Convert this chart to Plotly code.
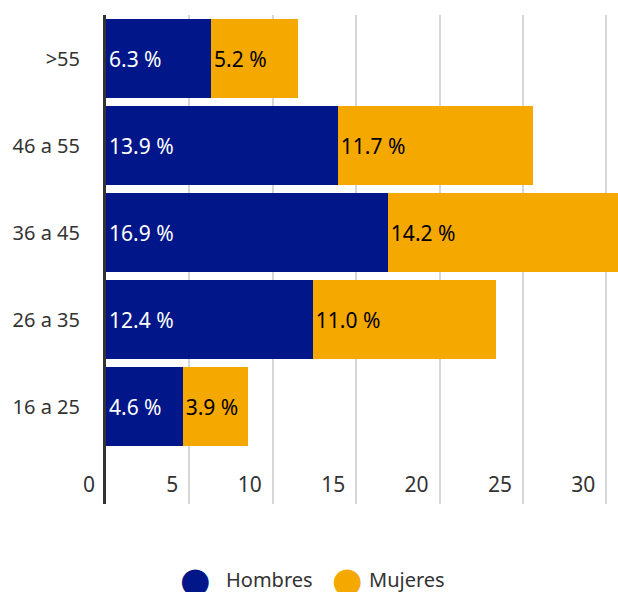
import plotly.graph_objects as go

categories = ["16 a 25", "26 a 35", "36 a 45", "46 a 55", ">55"]
hombres = [4.6, 12.4, 16.9, 13.9, 6.3]
mujeres = [3.9, 11.0, 14.2, 11.7, 5.2]
x_ticks = [0, 5, 10, 15, 20, 25, 30]
legend_names = ["Hombres", "Mujeres"]

BLUE = "#001689"
ORANGE = "#f5a800"
FONT = "Noto Sans"

W, H = 618, 592
# plot area in page px
PL, PR, PT, PB = 106, 618, 15, 504

fig = go.Figure()
fig.add_trace(go.Bar(
    y=categories, x=hombres, orientation="h", name=legend_names[0],
    marker=dict(color=BLUE, line=dict(width=0)),
    text=[f"{v:.1f} %" for v in hombres], textposition="inside",
    insidetextanchor="start", textfont=dict(color="white", size=21, family=FONT),
    showlegend=False, hoverinfo="skip"))
fig.add_trace(go.Bar(
    y=categories, x=mujeres, orientation="h", name=legend_names[1],
    marker=dict(color=ORANGE, line=dict(width=0)),
    text=[f"{v:.1f} %" for v in mujeres], textposition="inside",
    insidetextanchor="start", textfont=dict(color="black", size=21, family=FONT),
    showlegend=False, hoverinfo="skip"))

# custom legend with large circles (plotly caps legend marker size)
legend_items = [
    (legend_names[0], BLUE, 195, 224),
    (legend_names[1], ORANGE, 347, 367),
]
LEG_Y = 579
annotations = []
for name, color, cx, tx in legend_items:
    annotations.append(dict(
        text="●", xref="paper", yref="paper",
        x=(cx - PL) / (PR - PL), y=(PB - LEG_Y - 1) / (PB - PT),
        xanchor="center", yanchor="middle",
        showarrow=False, font=dict(size=35, color=color, family="DejaVu Sans")))
    annotations.append(dict(
        text=name, xref="paper", yref="paper",
        x=(tx - PL) / (PR - PL), y=(PB - LEG_Y) / (PB - PT),
        xanchor="left", yanchor="middle",
        showarrow=False, font=dict(size=20, color="#333333", family=FONT)))

fig.update_layout(
    width=W, height=H,
    margin=dict(l=PL, r=W - PR, t=PT, b=H - PB, autoexpand=False),
    barmode="stack", bargap=0.1,
    plot_bgcolor="white", paper_bgcolor="white",
    font=dict(family=FONT, color="#333333", size=20),
    showlegend=False,
    annotations=annotations,
)
fig.update_xaxes(
    range=[0, 30.7], tickvals=x_ticks, ticktext=[str(t) for t in x_ticks],
    showgrid=True, gridcolor="#d6d6d6", gridwidth=2,
    zeroline=False, showline=False, automargin=False,
    ticklabelposition="outside left", ticklabelstandoff=-34, ticklabelshift=-11,
    ticks="",
    tickfont=dict(size=21, color="#333333"),
)
fig.update_yaxes(
    type="category", categoryorder="array", categoryarray=categories,
    range=[-1.12, 4.5], automargin=False,
    showgrid=False, zeroline=False,
    showline=True, linecolor="#333333", linewidth=3,
    ticks="outside", ticklen=19, tickcolor="white",
    tickfont=dict(size=20, color="#333333"),
)

fig.write_html(
    "out.html",
    config={"displayModeBar": False},
    post_script="document.body.style.margin='0';document.body.style.overflow='hidden';",
)
